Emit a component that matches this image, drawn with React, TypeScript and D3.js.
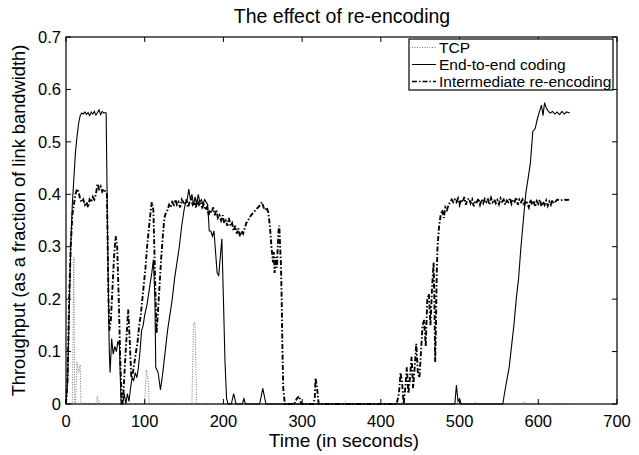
import React from "react";
import * as d3 from "d3";

const W = 639, H = 455;
const M = { left: 66, right: 22, top: 37, bottom: 51 };

const xTicks = [0, 100, 200, 300, 400, 500, 600, 700];
const yTicks = [0, 0.1, 0.2, 0.3, 0.4, 0.5, 0.6, 0.7];
const seriesNames = ["TCP", "End-to-end coding", "Intermediate re-encoding"];

const tcpT = [0, 8, 10, 11, 12, 14, 16, 18, 19, 38, 40, 42, 100, 102, 104, 106, 160, 162, 164, 166, 298, 300, 302, 353, 355, 357, 518, 520, 522, 580, 582, 584, 640];
const tcpV = [0, 0, 0.28, 0, 0, 0.08, 0.06, 0.075, 0, 0, 0.015, 0, 0, 0.065, 0.05, 0, 0, 0.155, 0.155, 0, 0, 0.005, 0, 0, 0.005, 0, 0, 0.004, 0, 0, 0.004, 0, 0];

const e2eT = [0, 2, 4, 6, 8, 10, 12, 14, 16, 18, 20, 22, 24, 26, 28, 30, 32, 34, 36, 38, 40, 42, 44, 46, 48, 50, 51, 53, 55, 56, 58, 60, 62, 64, 66, 68, 69, 70, 72, 74, 76, 78, 80, 82, 84, 86, 88, 90, 92, 94, 96, 98, 100, 103, 106, 109, 111, 113, 114, 117, 120, 123, 126, 129, 132, 135, 138, 141, 144, 147, 150, 152, 154, 156, 158, 160, 162, 164, 166, 168, 170, 172, 174, 176, 178, 180, 182, 184, 186, 188, 190, 192, 194, 196, 198, 200, 202, 204, 206, 210, 213, 216, 224, 226, 228, 246, 250, 254, 494, 496, 498, 500, 502, 555, 557, 560, 563, 566, 569, 572, 575, 578, 581, 584, 587, 590, 593, 596, 599, 602, 604, 606, 608, 610, 612, 615, 618, 621, 624, 627, 630, 633, 636, 640];
const e2eV = [0, 0.04, 0.17, 0.3, 0.38, 0.43, 0.48, 0.51, 0.535, 0.55, 0.555, 0.553, 0.557, 0.552, 0.556, 0.55, 0.557, 0.553, 0.558, 0.551, 0.556, 0.561, 0.552, 0.558, 0.555, 0.556, 0.555, 0.3, 0.1, 0.06, 0.125, 0.095, 0.11, 0.1, 0.12, 0.11, 0.05, 0, 0, 0.02, 0, 0.02, 0.005, 0.03, 0.05, 0.045, 0.06, 0.05, 0.07, 0.1, 0.14, 0.15, 0.17, 0.19, 0.22, 0.25, 0.275, 0.2, 0.07, 0.06, 0.027, 0.06, 0.1, 0.14, 0.17, 0.2, 0.24, 0.27, 0.3, 0.34, 0.37, 0.385, 0.39, 0.41, 0.39, 0.4, 0.38, 0.395, 0.38, 0.4, 0.385, 0.39, 0.38, 0.39, 0.385, 0.38, 0.33, 0.33, 0.32, 0.33, 0.29, 0.25, 0.245, 0.28, 0.315, 0.2, 0.08, 0.01, 0, 0, 0.02, 0, 0, 0.01, 0, 0, 0.03, 0, 0, 0.036, 0.005, 0.01, 0, 0, 0.02, 0.045, 0.07, 0.11, 0.15, 0.2, 0.24, 0.3, 0.35, 0.4, 0.43, 0.46, 0.52, 0.525, 0.545, 0.56, 0.57, 0.55, 0.575, 0.565, 0.56, 0.555, 0.558, 0.553, 0.557, 0.552, 0.558, 0.553, 0.557, 0.555];

const ireT = [0, 2, 4, 6, 8, 10, 12, 14, 16, 18, 20, 22, 24, 26, 28, 30, 32, 34, 36, 38, 40, 42, 44, 46, 48, 50, 52, 53, 54, 55, 57, 59, 61, 63, 65, 67, 69, 71, 73, 75, 77, 79, 81, 83, 85, 87, 89, 91, 93, 95, 97, 99, 101, 103, 105, 107, 109, 111, 113, 115, 117, 119, 121, 123, 125, 127, 129, 131, 133, 135, 137, 139, 141, 143, 145, 147, 149, 151, 153, 155, 157, 159, 161, 163, 165, 167, 169, 171, 173, 175, 177, 179, 181, 183, 185, 187, 189, 191, 193, 195, 197, 199, 201, 203, 205, 207, 209, 211, 213, 215, 217, 219, 221, 223, 225, 227, 229, 231, 233, 235, 238, 241, 244, 247, 249, 251, 253, 255, 257, 259, 261, 263, 264, 265, 267, 268, 269, 270, 271, 272, 273, 274, 275, 276, 278, 290, 293, 296, 299, 314, 316, 317, 319, 321, 420, 423, 425, 427, 429, 431, 433, 435, 437, 439, 441, 443, 445, 447, 449, 451, 453, 455, 457, 459, 461, 463, 465, 467, 468, 469, 470, 471, 472, 474, 476, 478, 480, 482, 484, 486, 488, 490, 492, 494, 496, 498, 500, 502, 504, 506, 508, 510, 512, 514, 516, 518, 520, 522, 524, 526, 528, 530, 532, 534, 536, 538, 540, 542, 544, 546, 548, 550, 552, 554, 556, 558, 560, 562, 564, 566, 568, 570, 572, 574, 576, 578, 580, 582, 584, 586, 588, 590, 592, 594, 596, 598, 600, 602, 604, 606, 608, 610, 612, 614, 616, 618, 620, 622, 624, 628, 632, 636, 640];
const ireV = [0, 0.05, 0.2, 0.3, 0.36, 0.38, 0.4, 0.41, 0.405, 0.39, 0.385, 0.39, 0.38, 0.385, 0.375, 0.39, 0.385, 0.395, 0.39, 0.4, 0.42, 0.41, 0.415, 0.405, 0.41, 0.405, 0.4, 0.3, 0.2, 0.14, 0.16, 0.22, 0.28, 0.32, 0.3, 0.2, 0.08, 0, 0.02, 0.08, 0.13, 0.18, 0.12, 0.05, 0.06, 0.08, 0.1, 0.12, 0.15, 0.17, 0.2, 0.23, 0.26, 0.3, 0.33, 0.36, 0.385, 0.37, 0.25, 0.135, 0.18, 0.23, 0.28, 0.32, 0.355, 0.365, 0.37, 0.38, 0.375, 0.385, 0.38, 0.39, 0.38, 0.385, 0.375, 0.39, 0.385, 0.38, 0.39, 0.375, 0.385, 0.39, 0.38, 0.385, 0.375, 0.39, 0.38, 0.385, 0.375, 0.38, 0.37, 0.375, 0.36, 0.37, 0.365, 0.375, 0.36, 0.37, 0.355, 0.36, 0.35, 0.36, 0.345, 0.35, 0.34, 0.355, 0.34, 0.345, 0.33, 0.34, 0.325, 0.335, 0.32, 0.33, 0.325, 0.335, 0.345, 0.35, 0.355, 0.36, 0.365, 0.37, 0.375, 0.38, 0.385, 0.375, 0.37, 0.375, 0.365, 0.34, 0.3, 0.27, 0.29, 0.25, 0.28, 0.26, 0.3, 0.33, 0.34, 0.3, 0.27, 0.2, 0.1, 0.03, 0, 0, 0.01, 0.015, 0, 0, 0.01, 0.05, 0.03, 0, 0, 0.02, 0.06, 0.04, 0, 0.03, 0.07, 0.02, 0.05, 0.09, 0.03, 0.07, 0.115, 0.06, 0.05, 0.1, 0.15, 0.16, 0.11, 0.2, 0.21, 0.15, 0.22, 0.27, 0.2, 0.08, 0.15, 0.25, 0.3, 0.34, 0.36, 0.37, 0.355, 0.375, 0.37, 0.38, 0.385, 0.39, 0.385, 0.39, 0.385, 0.392, 0.38, 0.39, 0.385, 0.395, 0.38, 0.39, 0.392, 0.383, 0.39, 0.377, 0.388, 0.385, 0.392, 0.38, 0.39, 0.383, 0.391, 0.385, 0.39, 0.38, 0.393, 0.385, 0.39, 0.383, 0.389, 0.381, 0.392, 0.386, 0.39, 0.38, 0.388, 0.385, 0.393, 0.382, 0.39, 0.386, 0.394, 0.38, 0.39, 0.385, 0.39, 0.378, 0.388, 0.383, 0.375, 0.39, 0.38, 0.388, 0.376, 0.387, 0.382, 0.39, 0.377, 0.386, 0.38, 0.388, 0.378, 0.386, 0.38, 0.389, 0.383, 0.386, 0.39, 0.388, 0.39, 0.389, 0.39];

const FONT = "'Liberation Sans', Arial, Helvetica, sans-serif";

export default function App() {
  const x = d3.scaleLinear().domain([0, 700]).range([M.left, W - M.right]);
  const y = d3.scaleLinear().domain([0, 0.7]).range([H - M.bottom, M.top]);
  const line = d3.line<[number, number]>().x(d => x(d[0])).y(d => y(d[1]));
  const zip = (t: number[], v: number[]) => t.map((ti, i) => [ti, v[i]] as [number, number]);
  const x0 = M.left, x1 = W - M.right, y0 = H - M.bottom, y1 = M.top;
  const tl = 5;
  const lx = 409, ly = 39, lw = 204, lh = 51;

  return (
    <svg width={W} height={H} style={{ position: "absolute", left: 0, top: 0, background: "#fff" }} fontFamily={FONT}>
      <rect x={0} y={0} width={W} height={H} fill="#fff" />
      <path d={line(zip(tcpT, tcpV)) || ""} fill="none" stroke="#777" strokeWidth={1} strokeDasharray="1,1.5" />
      <path d={line(zip(e2eT, e2eV)) || ""} fill="none" stroke="#000" strokeWidth={1.1} />
      <path d={line(zip(ireT, ireV)) || ""} fill="none" stroke="#000" strokeWidth={1.9} strokeDasharray="5,2,1.5,2" />
      {xTicks.map(t => (
        <g key={"xt" + t}>
          <line x1={x(t)} x2={x(t)} y1={y0} y2={y0 - tl} stroke="#000" />
          <line x1={x(t)} x2={x(t)} y1={y1} y2={y1 + tl} stroke="#000" />
          <text x={x(t)} y={y0 + 23} textAnchor="middle" fontSize={16.5}>{t}</text>
        </g>
      ))}
      {yTicks.map(t => (
        <g key={"yt" + t}>
          <line x1={x0} x2={x0 + tl} y1={y(t)} y2={y(t)} stroke="#000" />
          <line x1={x1} x2={x1 - tl} y1={y(t)} y2={y(t)} stroke="#000" />
          <text x={x0 - 5} y={y(t)} dy="0.35em" textAnchor="end" fontSize={16.5}>{t === 0 ? "0" : t.toFixed(1)}</text>
        </g>
      ))}
      <rect x={x0} y={y1} width={x1 - x0} height={y0 - y1} fill="none" stroke="#000" strokeWidth={1.2} />
      <rect x={lx} y={ly} width={lw} height={lh} fill="#fff" stroke="#000" strokeWidth={1.2} />
      {seriesNames.map((n, i) => {
        const yy = ly + 8.5 + i * 17;
        return (
          <g key={n}>
            <line x1={lx + 3} x2={lx + 27} y1={yy} y2={yy}
              stroke={i === 0 ? "#777" : "#000"}
              strokeWidth={i === 2 ? 1.6 : 1}
              strokeDasharray={i === 0 ? "1,1.5" : i === 2 ? "5,2,1.5,2" : undefined} />
            <text x={lx + 30} y={yy} dy="0.36em" fontSize={15.5}>{n}</text>
          </g>
        );
      })}
      <text x={342} y={23} textAnchor="middle" fontSize={19.5}>The effect of re-encoding</text>
      <text x={344} y={447} textAnchor="middle" fontSize={19}>Time (in seconds)</text>
      <text transform={`translate(25,${(y0 + y1) / 2}) rotate(-90)`} textAnchor="middle" fontSize={18.3}>Throughput (as a fraction of link bandwidth)</text>
    </svg>
  );
}
